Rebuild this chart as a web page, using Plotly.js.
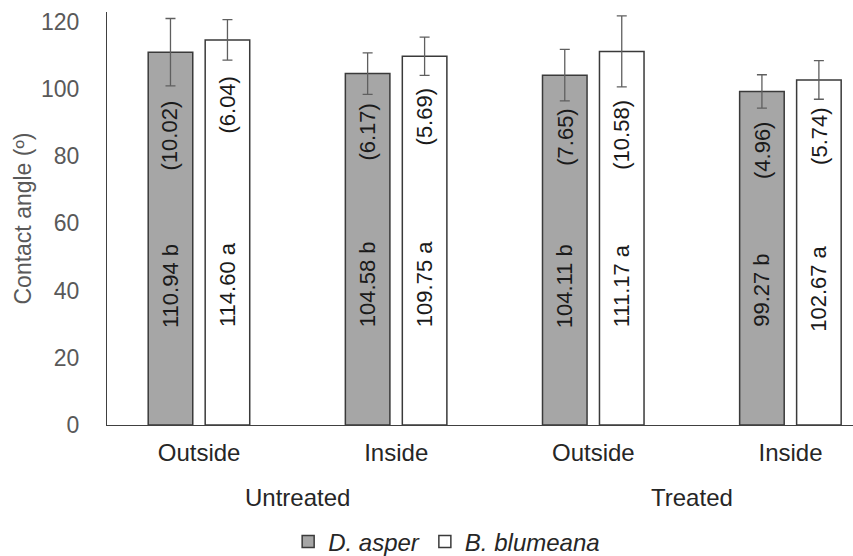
<!DOCTYPE html>
<html>
<head>
<meta charset="utf-8">
<script src="https://cdn.plot.ly/plotly-3.0.1.min.js"></script>
<style>html,body{margin:0;padding:0;background:#fff;}#chart{width:853px;height:556px;}</style>
</head>
<body>
<div id="chart"></div>
<script>
// ---- data ----
const positions = ["Outside", "Inside", "Outside", "Inside"];
const treatments = ["Untreated", "Untreated", "Treated", "Treated"];
const seriesNames = ["D. asper", "B. blumeana"];
const dAsperMean = [110.94, 104.58, 104.11, 99.27];
const dAsperSD = [10.02, 6.17, 7.65, 4.96];
const dAsperLetter = ["b", "b", "b", "b"];
const bBlumeanaMean = [114.60, 109.75, 111.17, 102.67];
const bBlumeanaSD = [6.04, 5.69, 10.58, 5.74];
const bBlumeanaLetter = ["a", "a", "a", "a"];

// ---- layout settings ----
const FONT = "Liberation Sans, Arial, sans-serif";
const barWidth = 0.226;
const offsets = [-0.258, 0.031];
const meanLabelY = [[41.5, 41.8, 41.2, 40.2], [41.8, 41.8, 41.5, 40.5]];
const sdLabelY = [[86.3, 87.2, 85.7, 81.8], [95.2, 91.7, 86.3, 86.0]];

const xIdx = positions.map((_, i) => i);
const means = [dAsperMean, bBlumeanaMean];
const sds = [dAsperSD, bBlumeanaSD];
const letters = [dAsperLetter, bBlumeanaLetter];
const fills = ["#a6a6a6", "#ffffff"];

const traces = means.map((m, s) => ({
  type: "bar",
  x: xIdx,
  y: m,
  name: "<i>" + seriesNames[s] + "</i>",
  width: barWidth,
  offset: offsets[s],
  marker: { color: fills[s], line: { color: "#3a3a3a", width: 1.5 } },
  error_y: { type: "data", array: sds[s], visible: true, color: "#5f5f5f", thickness: 1.3, width: 5 },
  hoverinfo: "skip"
}));

const annotations = [];
means.forEach((m, s) => {
  m.forEach((v, i) => {
    const xc = i + offsets[s] + barWidth / 2;
    annotations.push({
      x: xc, y: meanLabelY[s][i], xref: "x", yref: "y",
      text: v.toFixed(2) + " " + letters[s][i], showarrow: false, textangle: -90,
      font: { family: FONT, size: 22, color: "#1a1a1a" }, xanchor: "center", yanchor: "middle"
    });
    annotations.push({
      x: xc, y: sdLabelY[s][i], xref: "x", yref: "y",
      text: "(" + sds[s][i].toFixed(2) + ")", showarrow: false, textangle: -90,
      font: { family: FONT, size: 22, color: "#1a1a1a" }, xanchor: "center", yanchor: "middle"
    });
  });
});
// treatment group labels
const groups = [...new Set(treatments)];
groups.forEach(g => {
  const idx = treatments.map((t, i) => t === g ? i : null).filter(i => i !== null);
  const center = idx.reduce((a, b) => a + b, 0) / idx.length;
  annotations.push({
    x: center, y: -0.175, xref: "x", yref: "paper", text: g, showarrow: false,
    font: { family: FONT, size: 24, color: "#262626" }, xanchor: "center", yanchor: "middle"
  });
});

const layout = {
  width: 853, height: 556,
  margin: { l: 107, r: 0, t: 12, b: 131, autoexpand: false },
  paper_bgcolor: "#ffffff", plot_bgcolor: "#ffffff",
  font: { family: FONT },
  showlegend: true,
  legend: {
    orientation: "h", x: 0.4553, xanchor: "center", y: -0.283, yanchor: "middle",
    font: { family: FONT, size: 24, color: "#262626" }, traceorder: "normal"
  },
  xaxis: {
    range: [-0.467, 3.317], tickvals: xIdx, ticktext: positions,
    showgrid: false, zeroline: false, showline: true, linecolor: "#404040", linewidth: 1,
    ticks: "", tickfont: { family: FONT, size: 24, color: "#262626" }, ticklabelstandoff: 6,
    fixedrange: true
  },
  yaxis: {
    range: [0, 122.9], tickvals: [0, 20, 40, 60, 80, 100, 120],
    showgrid: false, zeroline: false, showline: true, linecolor: "#404040", linewidth: 1,
    ticks: "", tickfont: { family: FONT, size: 23, color: "#595959" }, ticklabelstandoff: 22,
    title: { text: "Contact angle (º)", font: { family: FONT, size: 23, color: "#595959" }, standoff: 2 },
    fixedrange: true
  },
  annotations: annotations
};

Plotly.newPlot("chart", traces, layout, { displayModeBar: false, staticPlot: true });
</script>
</body>
</html>
